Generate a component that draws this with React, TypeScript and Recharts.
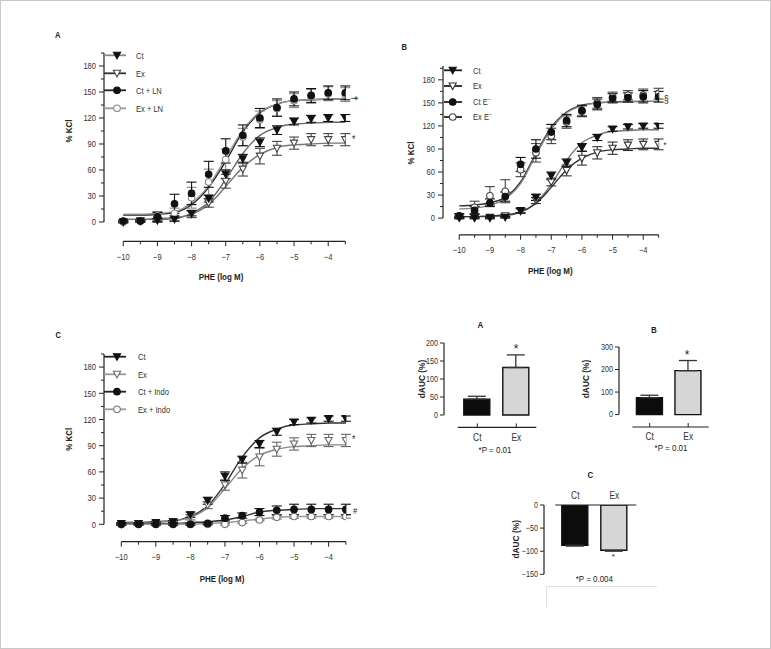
import React from "react";
import {
  ComposedChart,
  BarChart,
  Bar,
  Cell,
  Line,
  Scatter,
  ErrorBar,
  XAxis,
  YAxis,
  ReferenceLine,
} from "recharts";

const FONT = "'Liberation Sans', Arial, sans-serif";

// PHE doses (log M)
const doses = [-10, -9.5, -9, -8.5, -8, -7.5, -7, -6.5, -6, -5.5, -5, -4.5, -4, -3.5];
const kclTicks = [0, 15, 30, 45, 60, 75, 90, 105, 120, 135, 150, 165, 180, 195];

// panel A (L-NAME)
const aCt = [0, 1, 2, 3, 10, 27, 55, 73, 92, 106, 116, 119, 120, 120];
const aCtErr = [1, 1, 2, 2, 3, 4, 5, 5, 5, 5, 4, 4, 4, 4];
const aCtFit = [3, 3, 3, 4, 10, 23, 49, 79, 100, 109, 113, 114, 115, 115];
const aEx = [0, 1, 2, 4, 9, 22, 47, 61, 76, 85, 91, 95, 95, 95];
const aExErr = [1, 1, 2, 3, 4, 5, 8, 8, 9, 8, 7, 7, 7, 7];
const aExFit = [3, 3, 4, 5, 9, 20, 41, 63, 78, 86, 89, 90, 91, 91];
const aCtLN = [1, 1, 6, 21, 33, 55, 82, 100, 120, 132, 142, 146, 149, 149];
const aCtLNErr = [1, 1, 5, 11, 13, 15, 14, 12, 11, 10, 8, 8, 8, 8];
const aCtLNFit = [8, 8, 9, 11, 20, 40, 70, 104, 126, 136, 140, 141, 142, 142];
const aExLN = [0, 1, 7, 10, 28, 46, 72, 98, 118, 131, 140, 145, 148, 147];
const aExLNErr = [1, 1, 5, 6, 12, 15, 12, 10, 10, 9, 8, 8, 8, 8];
const aExLNFit = [9, 9, 10, 12, 22, 42, 74, 106, 127, 136, 140, 141, 142, 142];

// panel B (endothelium removed)
const bCt = [1, 0, 0, 1, 10, 27, 55, 72, 92, 105, 116, 119, 120, 120];
const bCtErr = [1, 1, 1, 1, 3, 4, 5, 5, 5, 4, 3, 3, 3, 3];
const bCtFit = [2, 2, 2, 3, 8, 20, 44, 75, 98, 108, 113, 114, 115, 115];
const bEx = [0, 1, 1, 3, 9, 23, 47, 62, 78, 85, 91, 95, 96, 96];
const bExErr = [1, 1, 1, 2, 3, 4, 5, 7, 9, 8, 8, 7, 7, 7];
const bExFit = [2, 2, 3, 4, 8, 19, 40, 63, 78, 86, 89, 90, 91, 91];
const bCtE = [3, 10, 20, 28, 70, 90, 112, 127, 140, 148, 156, 157, 158, 158];
const bCtEErr = [3, 5, 5, 6, 9, 12, 10, 8, 7, 7, 6, 6, 8, 7];
const bCtEFit = [16, 17, 20, 27, 47, 84, 118, 138, 147, 150, 151, 152, 152, 152];
const bExE = [2, 14, 29, 35, 63, 85, 107, 125, 139, 150, 158, 160, 160, 162];
const bExEErr = [2, 8, 12, 15, 9, 12, 10, 8, 7, 7, 6, 6, 8, 7];
const bExEFit = [12, 13, 17, 25, 45, 82, 116, 137, 146, 150, 151, 151, 152, 152];

// panel C (indomethacin)
const cCt = [1, 1, 2, 3, 11, 27, 55, 74, 92, 106, 117, 119, 121, 121];
const cCtErr = [1, 1, 1, 1, 3, 4, 5, 4, 4, 4, 3, 3, 3, 3];
const cCtFit = [2, 2, 3, 4, 9, 21, 46, 77, 99, 109, 114, 115, 116, 116];
const cEx = [0, 1, 1, 3, 8, 22, 45, 62, 77, 86, 92, 96, 96, 96];
const cExErr = [1, 1, 1, 1, 3, 4, 6, 9, 10, 8, 7, 7, 7, 7];
const cExFit = [2, 2, 3, 4, 8, 19, 41, 64, 79, 86, 89, 90, 91, 91];
const cCtIndo = [0, 0, 0, 0, 0, 1, 7, 10, 14, 16, 17, 17, 17, 17];
const cCtIndoErr = [1, 1, 1, 1, 1, 1, 3, 3, 4, 5, 6, 6, 6, 6];
const cCtIndoFit = [1, 1, 1, 1, 2, 3, 5, 9, 14, 16, 17, 18, 18, 18];
const cExIndo = [0, 0, 0, 0, 0, 0, 0, 2, 5, 8, 9, 9, 9, 9];
const cExIndoErr = [1, 1, 1, 1, 1, 1, 1, 1, 1, 2, 2, 2, 2, 2];
const cExIndoFit = [0, 0, 0, 0, 0, 1, 2, 4, 6, 8, 9, 9, 9, 9];

// dAUC bars
const groups = ["Ct", "Ex"];
const dAucA = [44, 132];
const dAucAErr = [8, 35];
const dAucB = [75, 195];
const dAucBErr = [11, 45];
const dAucC = [-87, -98];
const dAucCErr = [2, 2];

const fmt = (v: number) => (v < 0 ? "\u2212" + Math.abs(v) : String(v));

// narrow text: the figure uses a condensed face, so squeeze Liberation Sans
const NT = ({ x, y, children, size = 9, sx = 0.84, anchor = "middle", bold = false, rot = 0, fill = "#222" }: any) => (
  <text
    transform={`translate(${x} ${y}) rotate(${rot}) scale(${sx} 1)`}
    textAnchor={anchor}
    dominantBaseline="central"
    fontSize={size}
    fontWeight={bold ? "bold" : "normal"}
    fill={fill}
    fontFamily={FONT}
  >
    {children}
  </text>
);

const Marker = ({ kind, cx, cy, color }: any) => {
  if (cx == null || cy == null) return null;
  if (kind === "triFill" || kind === "triOpen") {
    const pts = `${cx - 3.6},${cy - 3} ${cx + 3.6},${cy - 3} ${cx},${cy + 3.6}`;
    return (
      <polygon points={pts} fill={kind === "triFill" ? color : "#fff"} stroke={color} strokeWidth={1.1} />
    );
  }
  return (
    <circle cx={cx} cy={cy} r={3.3} fill={kind === "dotFill" ? color : "#fff"} stroke={color} strokeWidth={1.1} />
  );
};

const LogTick = (p: any) => {
  const v = p.payload.value;
  const major = Number.isInteger(v);
  return (
    <g>
      <line x1={p.x} x2={p.x} y1={p.y} y2={p.y + (major ? 5 : 3)} stroke="#222" />
      {major && (
        <NT x={p.x} y={p.y + 15} fill="#333">
          {fmt(v)}
        </NT>
      )}
    </g>
  );
};

const KclTick = (p: any) => {
  const v = p.payload.value;
  const major = v % 30 === 0 && v <= 180;
  return (
    <g>
      <line x1={p.x} x2={p.x - (major ? 5 : 3)} y1={p.y} y2={p.y} stroke="#222" />
      {major && (
        <NT x={p.x - 8} y={p.y} anchor="end" fill="#333">
          {v}
        </NT>
      )}
    </g>
  );
};

const panelA = [
  { name: "Ct", pts: aCt, err: aCtErr, fit: aCtFit, kind: "triFill", mk: "#111", line: "#666", leg: "#888" },
  { name: "Ex", pts: aEx, err: aExErr, fit: aExFit, kind: "triOpen", mk: "#444", line: "#777", leg: "#333" },
  { name: "Ct + LN", pts: aCtLN, err: aCtLNErr, fit: aCtLNFit, kind: "dotFill", mk: "#111", line: "#222", leg: "#222" },
  { name: "Ex + LN", pts: aExLN, err: aExLNErr, fit: aExLNFit, kind: "dotOpen", mk: "#888", line: "#999", leg: "#999" },
];
const panelB = [
  { name: "Ct", pts: bCt, err: bCtErr, fit: bCtFit, kind: "triFill", mk: "#111", line: "#777", leg: "#222" },
  { name: "Ex", pts: bEx, err: bExErr, fit: bExFit, kind: "triOpen", mk: "#333", line: "#333", leg: "#222" },
  { name: "Ct E\u207B", pts: bCtE, err: bCtEErr, fit: bCtEFit, kind: "dotFill", mk: "#111", line: "#333", leg: "#222" },
  { name: "Ex E\u207B", pts: bExE, err: bExEErr, fit: bExEFit, kind: "dotOpen", mk: "#444", line: "#888", leg: "#222" },
];
const panelC = [
  { name: "Ct", pts: cCt, err: cCtErr, fit: cCtFit, kind: "triFill", mk: "#111", line: "#333", leg: "#222" },
  { name: "Ex", pts: cEx, err: cExErr, fit: cExFit, kind: "triOpen", mk: "#666", line: "#888", leg: "#999" },
  { name: "Ct + Indo", pts: cCtIndo, err: cCtIndoErr, fit: cCtIndoFit, kind: "dotFill", mk: "#111", line: "#333", leg: "#222" },
  { name: "Ex + Indo", pts: cExIndo, err: cExIndoErr, fit: cExIndoFit, kind: "dotOpen", mk: "#777", line: "#999", leg: "#999" },
];

// open symbols first so filled ones sit on top, as in the figure
const drawOrder = (series: any[]) => [
  ...series.filter((s) => s.kind.endsWith("Open")),
  ...series.filter((s) => s.kind.endsWith("Fill")),
];

function LinePanel({ box, xMin, yMin, yTop, series }: any) {
  const padL = 40;
  const padT = 10;
  const padR = 10;
  const padB = 30;
  return (
    <div style={{ position: "absolute", left: box.l - padL, top: box.t - padT }}>
      <ComposedChart
        width={box.r - box.l + padL + padR}
        height={box.b - box.t + padT + padB}
        margin={{ top: padT, right: padR, left: 0, bottom: 0 }}
      >
        <XAxis
          type="number"
          dataKey="x"
          domain={[xMin, -3.5]}
          ticks={doses}
          interval={0}
          allowDataOverflow
          axisLine={false}
          tickLine={false}
          tickSize={0}
          tickMargin={0}
          height={padB}
          tick={(p: any) => <LogTick {...p} />}
        />
        <YAxis
          type="number"
          dataKey="y"
          domain={[yMin, yTop]}
          ticks={kclTicks.filter((t) => t <= yTop)}
          interval={0}
          allowDataOverflow
          axisLine={false}
          tickLine={false}
          tickSize={0}
          tickMargin={0}
          width={padL}
          tick={(p: any) => <KclTick {...p} />}
        />
        <ReferenceLine
          segment={[{ x: xMin, y: 0 }, { x: xMin, y: yTop }]}
          stroke="#222"
          strokeWidth={1.2}
          ifOverflow="visible"
        />
        <ReferenceLine
          segment={[{ x: -10, y: yMin }, { x: -3.5, y: yMin }]}
          stroke="#222"
          strokeWidth={1.2}
          ifOverflow="visible"
        />
        {series.map((s: any) => (
          <Line
            key={s.name + "-fit"}
            data={doses.map((x, i) => ({ x, y: s.fit[i] }))}
            dataKey="y"
            type="monotone"
            stroke={s.line}
            strokeWidth={1.4}
            dot={false}
            activeDot={false}
            isAnimationActive={false}
          />
        ))}
        {drawOrder(series).map((s: any) => (
          <Scatter
            key={s.name}
            data={doses.map((x, i) => ({ x, y: s.pts[i], e: s.err[i] }))}
            dataKey="y"
            isAnimationActive={false}
            shape={(p: any) => <Marker kind={s.kind} cx={p.cx} cy={p.cy} color={s.mk} />}
          >
            <ErrorBar dataKey="e" direction="y" width={5} stroke={s.mk} strokeWidth={1.1} isAnimationActive={false} />
          </Scatter>
        ))}
      </ComposedChart>
    </div>
  );
}

function BarPanel({ box, xMin, xMax, axisFrom, yMin, yMax, yTicks, vals, errs, top }: any) {
  const padL = 40;
  const padR = 8;
  const axisH = 25;
  const data = groups.map((g, i) => ({
    x: i,
    name: g,
    v: vals[i],
    e: vals[i] >= 0 ? [0, errs[i]] : [errs[i], 0],
  }));
  const lineY = top ? yMax : yMin;
  const yAxisEnd = top ? yMin : yMax;
  return (
    <div style={{ position: "absolute", left: box.l - padL, top: box.t - (top ? axisH : 10) }}>
      <BarChart
        width={box.r - box.l + padL + padR}
        height={box.b - box.t + axisH + 10}
        data={data}
        margin={{ top: top ? 0 : 10, right: padR, left: 0, bottom: top ? 10 : 0 }}
      >
        <XAxis
          type="number"
          dataKey="x"
          orientation={top ? "top" : "bottom"}
          domain={[xMin, xMax]}
          ticks={[0, 1]}
          interval={0}
          allowDataOverflow
          axisLine={false}
          tickLine={false}
          tickSize={0}
          tickMargin={0}
          height={axisH}
          tick={(p: any) =>
            top ? (
              <NT x={p.x} y={p.y - 9} size={10} fill="#333">
                {groups[p.payload.value]}
              </NT>
            ) : (
              <g>
                <line x1={p.x} x2={p.x} y1={p.y} y2={p.y - 4} stroke="#222" />
                <NT x={p.x} y={p.y + 10} size={10} fill="#333">
                  {groups[p.payload.value]}
                </NT>
              </g>
            )
          }
        />
        <YAxis
          type="number"
          domain={[yMin, yMax]}
          ticks={yTicks}
          interval={0}
          allowDataOverflow
          axisLine={false}
          tickLine={false}
          tickSize={0}
          tickMargin={0}
          width={padL}
          tick={(p: any) => (
            <g>
              <line x1={p.x} x2={p.x - 4} y1={p.y} y2={p.y} stroke="#222" />
              <NT x={p.x - 6} y={p.y} anchor="end" size={9} sx={0.8} fill="#333">
                {fmt(p.payload.value)}
              </NT>
            </g>
          )}
        />
        <ReferenceLine
          segment={[{ x: xMin, y: 0 }, { x: xMin, y: yAxisEnd }]}
          stroke="#222"
          strokeWidth={1.2}
          ifOverflow="visible"
        />
        <ReferenceLine
          segment={[{ x: axisFrom, y: lineY }, { x: xMax, y: lineY }]}
          stroke="#222"
          strokeWidth={1.2}
          ifOverflow="visible"
        />
        <Bar dataKey="v" barSize={26} isAnimationActive={false}>
          {data.map((d, i) => (
            <Cell key={d.name} fill={i === 0 ? "#0c0c0c" : "#d6d6d6"} stroke="#111" strokeWidth={1.4} />
          ))}
          <ErrorBar dataKey="e" direction="y" width={9} stroke="#333" strokeWidth={1.3} isAnimationActive={false} />
        </Bar>
      </BarChart>
    </div>
  );
}

const legendRows = (series: any[], x1: number, x2: number, mx: number, tx: number, ys: number[]) =>
  series.map((s, i) => (
    <g key={s.name + i}>
      <line x1={x1} x2={x2} y1={ys[i]} y2={ys[i]} stroke={s.leg} strokeWidth={1.8} />
      <Marker kind={s.kind} cx={mx} cy={ys[i]} color={s.mk} />
      <NT x={tx} y={ys[i]} anchor="start" fill="#333">
        {s.name}
      </NT>
    </g>
  ));

export default function App() {
  return (
    <div
      style={{
        position: "absolute",
        left: 0,
        top: 0,
        width: 771,
        height: 649,
        background: "#fff",
        border: "1px solid #c8c8c8",
        boxSizing: "border-box",
        fontFamily: FONT,
      }}
    >
      <LinePanel box={{ l: 102.7, r: 344, t: 51.7, b: 240 }} xMin={-10.564} yMin={-22.3} yTop={195} series={panelA} />
      <LinePanel box={{ l: 442, r: 657.6, t: 65.2, b: 234 }} xMin={-10.53} yMin={-21.7} yTop={198} series={panelB} />
      <LinePanel box={{ l: 102.7, r: 344.6, t: 353, b: 540.7 }} xMin={-10.5} yMin={-19.9} yTop={195} series={panelC} />

      <BarPanel
        box={{ l: 442.7, r: 535, t: 342.3, b: 426.7 }}
        xMin={-0.854}
        xMax={1.513}
        axisFrom={-0.5}
        yMin={-34.4}
        yMax={200}
        yTicks={[0, 50, 100, 150, 200]}
        vals={dAucA}
        errs={dAucAErr}
      />
      <BarPanel
        box={{ l: 618.3, r: 708, t: 345.7, b: 425.7 }}
        xMin={-0.797}
        xMax={1.532}
        axisFrom={-0.449}
        yMin={-55}
        yMax={300}
        yTicks={[0, 100, 200, 300]}
        vals={dAucB}
        errs={dAucBErr}
      />
      <BarPanel
        box={{ l: 542.7, r: 635, t: 504, b: 573.3 }}
        xMin={-0.803}
        xMax={1.564}
        axisFrom={-0.513}
        yMin={-150}
        yMax={0}
        yTicks={[0, -50, -100, -150]}
        vals={dAucC}
        errs={dAucCErr}
        top
      />

      <div
        style={{
          position: "absolute",
          left: 545,
          top: 585,
          width: 110,
          height: 20,
          borderTop: "1px solid #e0e0e0",
          borderLeft: "1px solid #e0e0e0",
        }}
      />

      <svg width={771} height={649} style={{ position: "absolute", left: 0, top: 0, pointerEvents: "none" }}>
        {legendRows(panelA, 103, 125, 116, 135, [54.3, 72.3, 89.3, 107.3])}
        {legendRows(panelB, 443, 461, 451.7, 472, [69.3, 85, 101, 116])}
        {legendRows(panelC, 103, 125, 116, 137, [355.7, 373.3, 390.7, 408.3])}

        <NT x={56.7} y={34} bold>A</NT>
        <NT x={403.3} y={45.7} bold>B</NT>
        <NT x={57.3} y={333.3} bold>C</NT>

        <NT x={67.3} y={130} size={9.5} bold rot={-90}>% KCl</NT>
        <NT x={410} y={152} size={9.5} bold rot={-90}>% KCl</NT>
        <NT x={67.3} y={438.3} size={9.5} bold rot={-90}>% KCl</NT>

        <NT x={220} y={276} size={9.5} bold>PHE (log M)</NT>
        <NT x={549.3} y={269.3} size={9.5} bold>PHE (log M)</NT>
        <NT x={221} y={578} size={9.5} bold>PHE (log M)</NT>

        <NT x={352.7} y={97.3} size={9} bold rot={90} sx={1}>†</NT>
        <NT x={352.7} y={139} size={10}>*</NT>
        <NT x={665.3} y={98.3} size={10}>§</NT>
        <NT x={664} y={144} size={9}>*</NT>
        <NT x={352.7} y={439} size={10}>*</NT>
        <NT x={354} y={510} size={9}>#</NT>

        <NT x={479.3} y={324} size={9.5} bold>A</NT>
        <NT x={653} y={329} size={9.5} bold>B</NT>
        <NT x={589.3} y={473.3} size={9.5} bold>C</NT>

        <NT x={420.7} y={378} size={9.5} sx={0.88} bold rot={-90}>dAUC (%)</NT>
        <NT x={585} y={378} size={9.5} sx={0.88} bold rot={-90}>dAUC (%)</NT>
        <NT x={515} y={538.3} size={9.5} sx={0.88} bold rot={-90}>dAUC (%)</NT>

        <NT x={515} y={348} size={12} sx={1}>*</NT>
        <NT x={686} y={354} size={12} sx={1}>*</NT>
        <NT x={612.3} y={555} size={8} sx={1}>*</NT>

        <NT x={494} y={449} size={9.5}>*P = 0.01</NT>
        <NT x={670} y={447} size={9.5}>*P = 0.01</NT>
        <NT x={593.3} y={577.3} size={9.5}>*P = 0.004</NT>
      </svg>
    </div>
  );
}
